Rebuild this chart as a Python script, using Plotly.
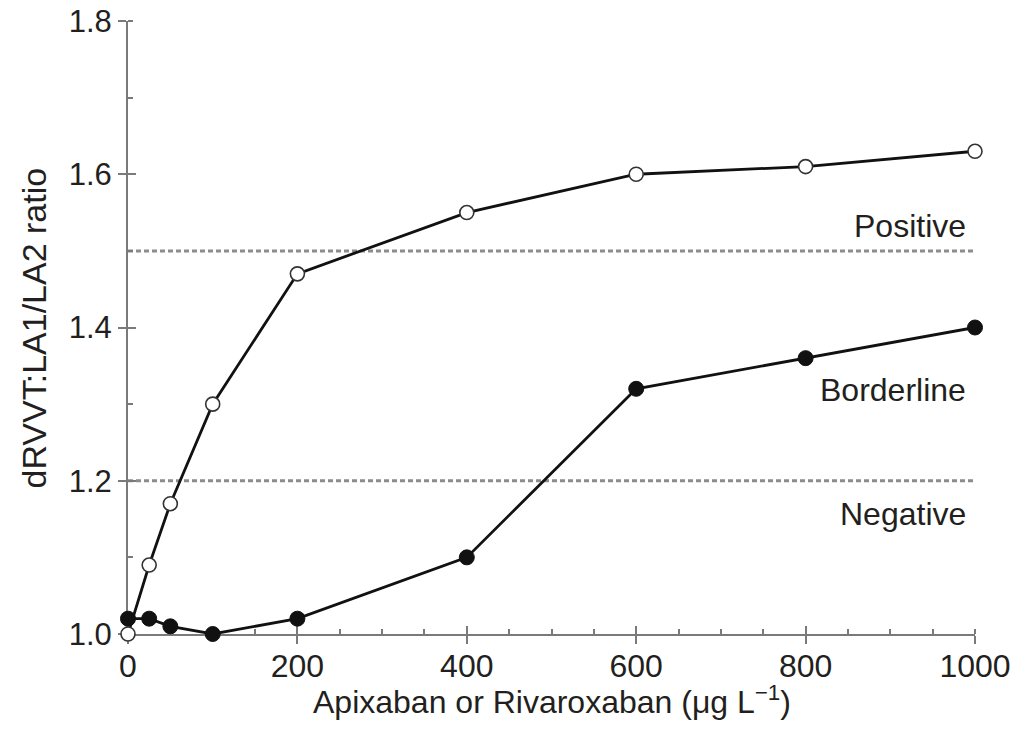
import plotly.graph_objects as go

conc = [0, 25, 50, 100, 200, 400, 600, 800, 1000]
ratio_open = [1.00, 1.09, 1.17, 1.30, 1.47, 1.55, 1.60, 1.61, 1.63]
ratio_filled = [1.02, 1.02, 1.01, 1.00, 1.02, 1.10, 1.32, 1.36, 1.40]
thresholds = [1.5, 1.2]
zone_labels = ["Positive", "Borderline", "Negative"]
zone_label_y = [1.532, 1.318, 1.156]
x_ticks = [0, 200, 400, 600, 800, 1000]
y_ticks = [1.0, 1.2, 1.4, 1.6, 1.8]
x_title = "Apixaban or Rivaroxaban (μg L<sup>−1</sup>)"
y_title = "dRVVT:LA1/LA2 ratio"

FONT = "Liberation Sans, Arial, Helvetica, sans-serif"
TXT = "#231f20"
AX = "#7a7a7a"

fig = go.Figure()

fig.add_trace(go.Scatter(
    x=conc, y=ratio_filled, mode="lines+markers",
    line=dict(color="#111111", width=2.8),
    marker=dict(symbol="circle", size=15, color="#111111",
                line=dict(color="#111111", width=1)),
    cliponaxis=False, showlegend=False))

fig.add_trace(go.Scatter(
    x=conc, y=ratio_open, mode="lines+markers",
    line=dict(color="#111111", width=2.8),
    marker=dict(symbol="circle", size=14, color="white",
                line=dict(color="#333333", width=1.6)),
    cliponaxis=False, showlegend=False))

# invisible trace on overlay axes for crossing major ticks
fig.add_trace(go.Scatter(x=[0], y=[1.0], xaxis="x2", yaxis="y2",
                         mode="markers", marker=dict(opacity=0),
                         showlegend=False, hoverinfo="skip"))

for t in thresholds:
    fig.add_shape(type="line", xref="x", yref="y", x0=0, x1=1000, y0=t, y1=t,
                  line=dict(color="#8c8c8c", width=3, dash="5px,3px"), layer="below")

for lab, yy in zip(zone_labels, zone_label_y):
    fig.add_annotation(x=992, y=yy, xref="x", yref="y", text=lab,
                       showarrow=False, xanchor="right", yanchor="middle",
                       font=dict(family=FONT, size=32, color=TXT))

# axis titles
fig.add_annotation(x=0.5, y=-0.108, xref="paper", yref="paper", text=x_title,
                   showarrow=False, xanchor="center", yanchor="middle",
                   font=dict(family=FONT, size=32, color=TXT))
fig.add_annotation(x=-0.111, y=0.5, xref="paper", yref="paper", text=y_title,
                   showarrow=False, xanchor="center", yanchor="middle", textangle=-90,
                   font=dict(family=FONT, size=34, color=TXT))

fig.update_layout(
    width=1014, height=732,
    margin=dict(l=128, r=39, t=21, b=98),
    paper_bgcolor="white", plot_bgcolor="white",
    font=dict(family=FONT, color=TXT),
    xaxis=dict(range=[0, 1000], tickvals=x_ticks, ticks="outside", ticklen=8,
               tickwidth=2, tickcolor=AX, showline=True, linecolor=AX, linewidth=2,
               showgrid=False, zeroline=False, automargin=False, layer="below traces",
               ticklabelstandoff=-5,
               tickfont=dict(family=FONT, size=32, color=TXT),
               minor=dict(dtick=50, tick0=0, ticks="inside", ticklen=5,
                          tickwidth=1.5, tickcolor=AX, showgrid=False)),
    yaxis=dict(range=[1.0, 1.8], tickvals=y_ticks, tickformat=".1f",
               ticks="outside", ticklen=8, tickwidth=2, tickcolor=AX,
               showline=True, linecolor=AX, linewidth=2,
               showgrid=False, zeroline=False, automargin=False, layer="below traces",
               tickfont=dict(family=FONT, size=31, color=TXT),
               minor=dict(dtick=0.1, tick0=1.0, ticks="inside", ticklen=5,
                          tickwidth=1.5, tickcolor=AX, showgrid=False)),
    xaxis2=dict(range=[0, 1000], overlaying="x", tickvals=x_ticks, ticks="inside",
                ticklen=8, tickwidth=2, tickcolor=AX, showticklabels=False,
                showline=False, showgrid=False, zeroline=False, layer="below traces"),
    yaxis2=dict(range=[1.0, 1.8], overlaying="y", tickvals=y_ticks, ticks="inside",
                ticklen=8, tickwidth=2, tickcolor=AX, showticklabels=False,
                showline=False, showgrid=False, zeroline=False, layer="below traces"),
)

fig.write_html("out.html")
